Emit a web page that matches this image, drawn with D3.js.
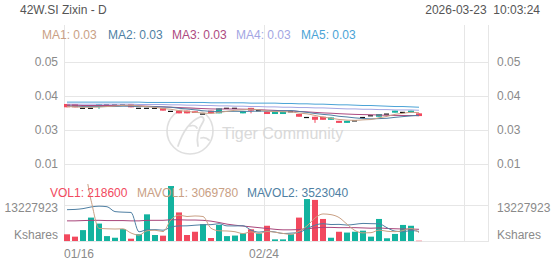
<!DOCTYPE html>
<html><head><meta charset="utf-8">
<script src="https://cdn.jsdelivr.net/npm/d3@7"></script>
<style>body{margin:0;background:#fff}svg{display:block}text{font-family:Arial,"Liberation Sans",sans-serif}</style>
</head><body><svg id="c" width="552" height="265"></svg>
<script>
const dates=["01/16","01/19","01/20","01/21","01/22","01/23","01/26","01/27","01/28","01/29","01/30","02/02","02/03","02/04","02/05","02/06","02/09","02/10","02/11","02/12","02/13","02/16","02/19","02/20","02/23","02/24","02/25","02/26","02/27","03/02","03/03","03/04","03/05","03/06","03/09","03/10","03/11","03/12","03/13","03/16","03/17","03/18","03/19","03/20","03/23"];
const opens=[0.03765,0.03765,0.0364,0.0364,0.0368,0.0374,0.0374,0.0374,0.03765,0.0364,0.0364,0.0364,0.0364,0.0355,0.0357,0.0357,0.0355,0.0347,0.0357,0.0349,0.0364,0.0364,0.0349,0.0365,0.0357,0.0354,0.0347,0.0347,0.0354,0.0347,0.0337,0.0339,0.0339,0.0330,0.0327,0.0321,0.0327,0.0337,0.0342,0.0339,0.0347,0.0351,0.0352,0.0351,0.0349];
const closes=[0.03668,0.03668,0.0364,0.0364,0.0376,0.0374,0.0374,0.0374,0.03668,0.0364,0.0364,0.0364,0.0357,0.0355,0.0349,0.0349,0.0350,0.0347,0.0349,0.0364,0.0364,0.0364,0.0356,0.0357,0.0357,0.0347,0.0354,0.0354,0.0354,0.0339,0.0337,0.0330,0.0330,0.0337,0.0321,0.0327,0.0327,0.0337,0.0342,0.0347,0.0347,0.0357,0.0352,0.0357,0.0341];
const highs=[0.03765,0.03765,0.0364,0.0364,0.0376,0.0374,0.0374,0.0374,0.03765,0.0364,0.0364,0.0364,0.0364,0.0355,0.0357,0.0357,0.0355,0.0347,0.0357,0.0364,0.0364,0.0364,0.0356,0.0365,0.0357,0.0354,0.0354,0.0354,0.0354,0.0347,0.0337,0.0339,0.0339,0.0337,0.0327,0.0327,0.0327,0.0337,0.0342,0.0347,0.0347,0.0357,0.0352,0.0357,0.0349];
const lows=[0.03668,0.03668,0.0364,0.0364,0.0362,0.0374,0.0374,0.0374,0.03668,0.0364,0.0364,0.0364,0.0357,0.0355,0.0349,0.0349,0.0350,0.0347,0.0349,0.0349,0.0364,0.0364,0.0349,0.0349,0.0357,0.0347,0.0347,0.0347,0.0354,0.0339,0.0337,0.0321,0.0330,0.0330,0.0321,0.0321,0.0327,0.0337,0.0342,0.0339,0.0347,0.0351,0.0352,0.0351,0.0341];
const volumes=[2460000,1600000,4000000,8600000,6400000,1800000,1200000,4400000,850000,2500000,9800000,2200000,1960000,20200000,10500000,2200000,3400000,6200000,1100000,5900000,1800000,2000000,2800000,4300000,2800000,5600000,600000,600000,2500000,8600000,15400000,15100000,8100000,1200000,3400000,3100000,3400000,3800000,1600000,8100000,1000000,2600000,5900000,5600000,218600];
const ma1=[0.0369,0.0368,0.0367,0.0367,0.03675,0.0369,0.03704,0.03724,0.03729,0.03706,0.03686,0.03666,0.03632,0.03608,0.0357,0.03548,0.0352,0.035,0.03488,0.03518,0.03548,0.0358,0.03594,0.0361,0.03596,0.03562,0.03542,0.03538,0.03532,0.03496,0.03476,0.03428,0.0338,0.03346,0.0331,0.0329,0.03284,0.03298,0.03308,0.0336,0.034,0.0346,0.0349,0.0352,0.03508];
const ma2=[0.0370,0.0370,0.0369,0.0369,0.0369,0.0369,0.0369,0.0370,0.0370,0.0369,0.03688,0.03685,0.03678,0.03669,0.03638,0.03617,0.03593,0.03566,0.03548,0.03544,0.03548,0.0355,0.03547,0.03549,0.03557,0.03555,0.03561,0.03566,0.03571,0.03546,0.03519,0.03485,0.03459,0.03439,0.03403,0.03383,0.03356,0.03339,0.03327,0.03335,0.03345,0.03372,0.03394,0.03414,0.03434];
const ma3=[0.0373,0.0373,0.0372,0.0372,0.0372,0.0372,0.0372,0.0372,0.0371,0.0371,0.0370,0.0369,0.0368,0.0367,0.0366,0.0365,0.0364,0.0363,0.0362,0.03617,0.03618,0.03618,0.03613,0.03609,0.03598,0.03586,0.03577,0.03566,0.0356,0.03545,0.03534,0.03518,0.03503,0.03494,0.0348,0.03469,0.03459,0.03453,0.03449,0.0344,0.03432,0.03429,0.03427,0.03427,0.03419];
const ma4=[0.0376,0.0376,0.0376,0.0376,0.0376,0.0376,0.0376,0.0376,0.0376,0.0375,0.0375,0.0375,0.0375,0.0374,0.0374,0.0373,0.0373,0.0372,0.0372,0.0371,0.0371,0.0370,0.0370,0.0369,0.0369,0.0368,0.0368,0.0367,0.0367,0.0366,0.0366,0.0365,0.0365,0.0364,0.0363,0.0362,0.0362,0.0361,0.0361,0.0360,0.0360,0.0359,0.0359,0.0359,0.0358];
const ma5=[0.0382,0.0382,0.0382,0.0382,0.0382,0.0382,0.0382,0.0382,0.0382,0.0382,0.0381,0.0381,0.0381,0.0381,0.0381,0.0381,0.0381,0.0381,0.0380,0.0380,0.0380,0.0380,0.0380,0.0379,0.0379,0.0379,0.0379,0.0378,0.0378,0.0377,0.0377,0.0376,0.0376,0.0375,0.0374,0.0374,0.0373,0.0372,0.0372,0.0371,0.0370,0.0369,0.0369,0.0368,0.0367];
const mavol1=[28000000,28000000,27600000,15000000,4610000,4480000,4400000,4480000,2930000,2150000,3750000,3950000,3460000,7800000,9500000,9000000,9200000,9000000,4680000,3760000,3680000,3400000,2720000,3360000,2740000,3500000,3220000,2780000,2420000,3580000,5540000,8440000,9940000,9680000,8640000,6180000,3840000,2980000,3060000,4000000,3580000,3420000,3840000,4640000,3069780];
const mavol2=[11500000,11600000,11900000,12500000,12800000,12600000,10800000,10600000,10500000,3380000,4120000,4180000,3970000,5130000,5540000,5580000,5800000,5980000,6010000,6350000,5550000,5530000,5610000,4020000,3250000,3590000,3310000,2750000,2890000,3160000,4520000,5830000,6360000,6050000,6110000,5860000,6140000,6460000,6370000,6320000,4880000,3630000,3410000,3850000,3523040];
const mavol3=[7400000,7400000,7500000,7600000,7600000,7500000,7500000,7500000,7400000,7400000,7600000,7600000,7600000,7800000,7800000,7700000,7700000,7600000,7300000,6800000,6200000,5800000,5500000,5200000,4900000,4600000,4300000,4100000,4100000,4200000,4500000,4800000,5000000,5000000,4900000,4900000,4900000,4800000,4700000,4800000,4600000,4500000,4400000,4400000,4300000];
const priceTicks=[0.05,0.04,0.03,0.02];
const priceTickLabels=["0.05","0.04","0.03","0.01"];
const volTick=13227923;
const dateTickIdx=[0,25,50];
const maLegend=[["MA1: 0.03","#c9a084"],["MA2: 0.03","#4f7fa3"],["MA3: 0.03","#ad4a80"],["MA4: 0.03","#a3a6e3"],["MA5: 0.03","#4aa3d6"]];
const volLegend=[["VOL1: 218600","#f2495e"],["MAVOL1: 3069780","#c9a084"],["MAVOL2: 3523040","#4f7fa3"]];

const svg=d3.select("#c");
const L=64,R=488,slots=53;
const x=d3.scaleLinear().domain([0,slots]).range([L,R]);
const bw=6;
const y=d3.scaleLinear().domain([0.02,0.05]).range([164,62]);
const yv=d3.scaleLinear().domain([0,volTick]).range([241,205]);
const UP="#13b39f",DOWN="#f2495e",GRID="#e6e6e6",AX="#8a8a8a";

// clip paths
const defs=svg.append("defs");
defs.append("clipPath").attr("id","cp").append("rect").attr("x",L).attr("y",25).attr("width",R-L).attr("height",155);
defs.append("clipPath").attr("id","cv").append("rect").attr("x",L).attr("y",184).attr("width",R-L).attr("height",58);

// title
svg.append("text").attr("x",20).attr("y",14).attr("font-size",12).attr("fill","#555").text("42W.SI Zixin - D");
svg.append("text").attr("x",540).attr("y",14).attr("font-size",12).attr("fill","#555").attr("text-anchor","end").attr("xml:space","preserve").text("2026-03-23  10:03:24");

// grid
const g=svg.append("g");
g.selectAll(".hg").data(priceTicks).join("line").attr("x1",L).attr("x2",R).attr("y1",d=>Math.round(y(d))+0.5).attr("y2",d=>Math.round(y(d))+0.5).attr("stroke",GRID);
g.append("line").attr("x1",L).attr("x2",R).attr("y1",Math.round(yv(volTick))+0.5).attr("y2",Math.round(yv(volTick))+0.5).attr("stroke",GRID);
g.append("line").attr("x1",L).attr("x2",R).attr("y1",241.5).attr("y2",241.5).attr("stroke",GRID);
g.selectAll(".vg").data(dateTickIdx).join("line").attr("x1",d=>Math.round(x(d))+0.5).attr("x2",d=>Math.round(x(d))+0.5).attr("y1",25).attr("y2",242).attr("stroke",GRID);
g.append("line").attr("x1",R+0.5).attr("x2",R+0.5).attr("y1",25).attr("y2",242).attr("stroke",GRID);

// axis labels
const al=svg.append("g").attr("font-size",12).attr("fill",AX);
priceTicks.forEach((t,i)=>{
  al.append("text").attr("x",58).attr("y",y(t)+4).attr("text-anchor","end").text(priceTickLabels[i]);
  al.append("text").attr("x",497).attr("y",y(t)+4).text(priceTickLabels[i]);
});
const vt=d3.format("d")(volTick);
al.append("text").attr("x",58).attr("y",yv(volTick)+7).attr("text-anchor","end").text(vt);
al.append("text").attr("x",497).attr("y",yv(volTick)+7).text(vt);
al.append("text").attr("x",58).attr("y",239).attr("text-anchor","end").text("Kshares");
al.append("text").attr("x",497).attr("y",239).text("Kshares");
dateTickIdx.filter(i=>i<dates.length).forEach(i=>{
  const t=al.append("text").attr("y",258).text(dates[i]);
  if(i===0) t.attr("x",x(i)); else t.attr("x",x(i)).attr("text-anchor","middle");
});

// legends
let lx=42;
const xs=[42,108,172,236,301];
maLegend.forEach((m,i)=>svg.append("text").attr("x",xs[i]).attr("y",39).attr("font-size",12).attr("fill",m[1]).text(m[0]));

// watermark
const wm=svg.append("g").attr("opacity",0.9);
wm.append("circle").attr("cx",190).attr("cy",131).attr("r",23).attr("fill","none").attr("stroke","#dcdcdc").attr("stroke-width",1.6);
wm.append("path").attr("d","M178,146 C182,134 188,122 200,117 C203,116 205,119 203,122 C199,128 196,136 198,146 M190,126 C193,125 196,126 197,128 M201,138 C204,137 207,138 209,140").attr("fill","none").attr("stroke","#dcdcdc").attr("stroke-width",1.8).attr("stroke-linecap","round");
wm.append("text").attr("x",222).attr("y",139).attr("font-size",16).attr("fill","#d6d6d6").text("Tiger Community");

// volume bars
const vg=svg.append("g").attr("clip-path","url(#cv)");
vg.selectAll("rect").data(volumes).join("rect")
  .attr("x",(d,i)=>x(i)).attr("width",bw)
  .attr("y",d=>yv(d)).attr("height",d=>Math.max(0.8,yv(0)-yv(d)))
  .attr("fill",(d,i)=>closes[i]<opens[i]?DOWN:UP)
  .attr("opacity",(d,i)=>i===volumes.length-1?0.5:1);
const vline=d3.line().x((d,i)=>x(i)+bw/2).y(d=>yv(d)).curve(d3.curveMonotoneX);
[[mavol3,"#a8457a"],[mavol2,"#4f7fa3"],[mavol1,"#c9a084"]].forEach(([arr,c])=>{
  vg.append("path").attr("d",vline(arr)).attr("fill","none").attr("stroke",c).attr("stroke-width",1);
});
let vx=50;
const vxs=[50,137,247];
volLegend.forEach((m,i)=>svg.append("text").attr("x",vxs[i]).attr("y",197).attr("font-size",12).attr("fill",m[1]).text(m[0]));

// candles
const cg=svg.append("g").attr("clip-path","url(#cp)");
dates.forEach((d,i)=>{
  const o=opens[i],c=closes[i];
  const col=c>o?UP:(c<o?DOWN:"#111");
  const cx=x(i)+bw/2;
  cg.append("line").attr("x1",cx).attr("x2",cx).attr("y1",y(highs[i])).attr("y2",y(lows[i])).attr("stroke",col).attr("stroke-width",1);
  if(c===o){
    cg.append("rect").attr("x",x(i)).attr("width",bw-1).attr("y",y(o)-0.5).attr("height",1.2).attr("fill",col);
  } else {
    const top=y(Math.max(o,c)),bot=y(Math.min(o,c));
    cg.append("rect").attr("x",x(i)).attr("width",bw).attr("y",top).attr("height",Math.max(1,bot-top)).attr("fill",col);
  }
});
const pline=d3.line().x((d,i)=>x(i)+bw/2).y(d=>y(d)).curve(d3.curveMonotoneX);
[[ma5,"#4aa3d6"],[ma4,"#a3a6e3"],[ma3,"#ad4a80"],[ma2,"#4f7fa3"],[ma1,"#c9a084"]].forEach(([arr,c])=>{
  cg.append("path").attr("d",pline(arr)).attr("fill","none").attr("stroke",c).attr("stroke-width",1);
});
</script></body></html>
